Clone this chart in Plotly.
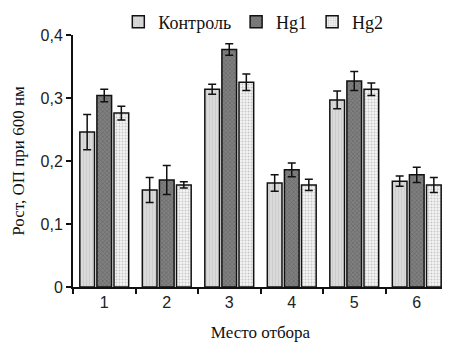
import plotly.graph_objects as go

categories = ["1", "2", "3", "4", "5", "6"]
control = [0.246, 0.154, 0.314, 0.165, 0.297, 0.168]
control_err = [0.028, 0.020, 0.008, 0.013, 0.014, 0.008]
hg1 = [0.304, 0.170, 0.377, 0.186, 0.327, 0.178]
hg1_err = [0.010, 0.023, 0.009, 0.011, 0.015, 0.012]
hg2 = [0.276, 0.162, 0.325, 0.162, 0.314, 0.162]
hg2_err = [0.011, 0.005, 0.013, 0.009, 0.010, 0.012]
series_names = ["Контроль", "Hg1", "Hg2"]
y_tickvals = [0, 0.1, 0.2, 0.3, 0.4]
y_ticktext = ["0", "0,1", "0,2", "0,3", "0,4"]

styles = [
    dict(color="#d2d2d2", pattern=dict(shape="|", fgcolor="#bdbdbd", bgcolor="#dadada", size=3, solidity=0.3)),
    dict(color="#6a6a6a", pattern=dict(shape="x", fgcolor="#505050", bgcolor="#808080", size=3, solidity=0.4)),
    dict(color="#eeeeee", pattern=dict(shape=".", fgcolor="#9a9a9a", bgcolor="#f4f4f4", size=3, solidity=0.35)),
]

fig = go.Figure()
for name, vals, errs, st in zip(series_names, [control, hg1, hg2], [control_err, hg1_err, hg2_err], styles):
    fig.add_trace(go.Bar(
        x=categories, y=vals, name=name,
        marker=dict(color=st["color"], pattern=st["pattern"], line=dict(color="#111111", width=1.5)),
        error_y=dict(type="data", array=errs, visible=True, color="#111111", thickness=1.5, width=4),
    ))

# page body adds an 8px margin, so the figure is sized to fit inside the window
fig.update_layout(
    width=442, height=334,
    margin=dict(l=65, r=2, t=27, b=55, autoexpand=False),
    paper_bgcolor="white", plot_bgcolor="white",
    barmode="group", bargap=0.18, bargroupgap=0.14,
    showlegend=True,
    legend=dict(orientation="h", x=0.555, xanchor="center", xref="container",
                y=0.958, yanchor="middle", yref="container",
                font=dict(family="Liberation Serif", size=18, color="#111111"),
                itemwidth=30, traceorder="normal", bgcolor="rgba(0,0,0,0)"),
    font=dict(family="Liberation Sans", size=14, color="#222222"),
)
fig.update_xaxes(
    automargin=False,
    showline=True, linecolor="#111111", linewidth=2,
    ticks="outside", tickson="boundaries", ticklen=5, tickwidth=2, tickcolor="#111111",
    showgrid=False,
    tickfont=dict(family="Liberation Sans", size=16, color="#222222"),
    title=dict(text="Место отбора", font=dict(family="Liberation Serif", size=17, color="#111111"), standoff=20),
)
fig.update_yaxes(
    automargin=False,
    range=[0, 0.4], showline=True, linecolor="#111111", linewidth=2,
    ticks="outside", ticklen=5, tickwidth=2, tickcolor="#111111",
    tickvals=y_tickvals, ticktext=y_ticktext, showgrid=False, zeroline=False,
    tickfont=dict(family="Liberation Sans", size=16, color="#222222"),
    title=dict(text="Рост, ОП при 600 нм", font=dict(family="Liberation Serif", size=17, color="#111111"), standoff=12),
)

fig.write_html("out.html")
